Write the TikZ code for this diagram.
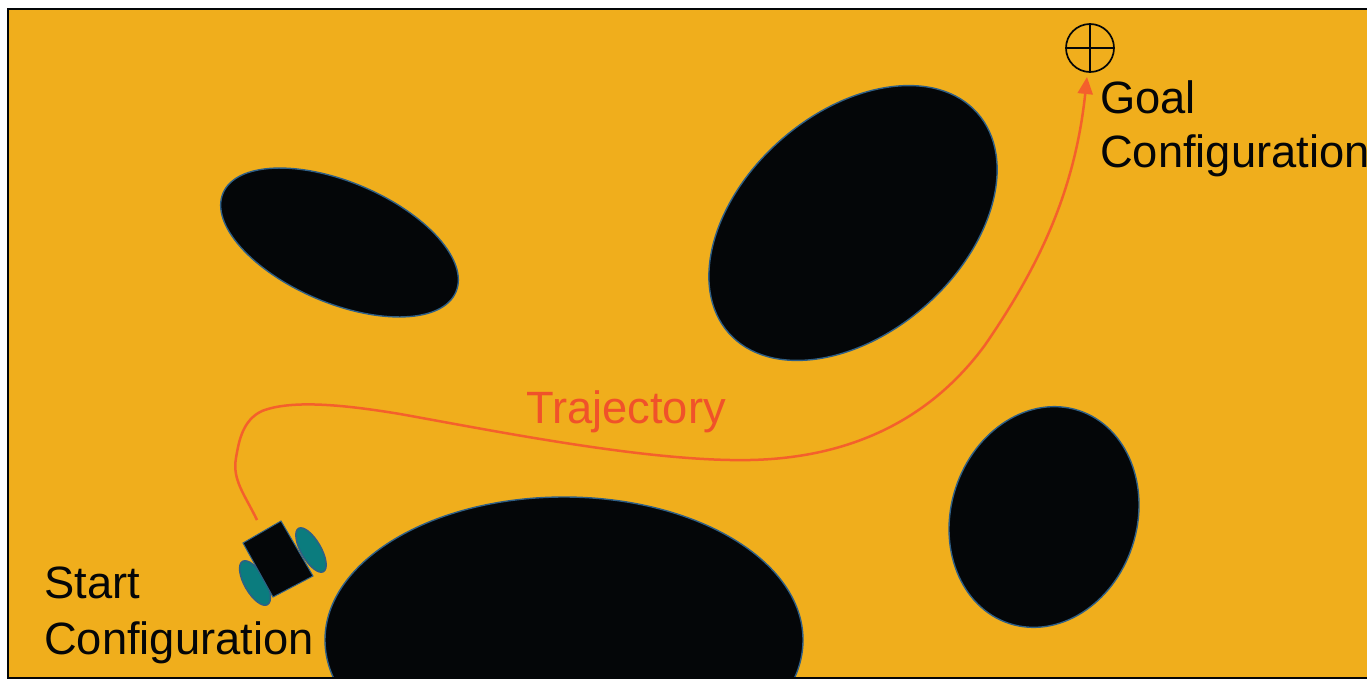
\documentclass[tikz,border=0pt]{standalone}
\usepackage{fontspec}
\setmainfont{Liberation Sans}
\usetikzlibrary{arrows.meta}
\definecolor{field}{HTML}{F0AE1C}
\definecolor{obst}{HTML}{040608}
\definecolor{edgeblue}{HTML}{2F5F86}
\definecolor{wheelc}{HTML}{0B7C7E}
\definecolor{traj}{HTML}{F4602C}
\definecolor{trajtext}{HTML}{F0522A}
\tikzset{
  x=1pt,y=-1pt,
  obstacle/.style={fill=obst,draw=edgeblue,line width=1.4pt},
  wheel/.style={fill=wheelc,draw=edgeblue,line width=1.4pt},
  caption/.style={font=\fontsize{45.3}{55.5}\selectfont,align=left,text=obst,inner sep=0pt},
  path/.style={draw=traj,line width=2.5pt,-{Triangle[length=17pt,width=15pt]}},
}
\begin{document}
\begin{tikzpicture}
\useasboundingbox (0,0) rectangle (1367,680);
\fill[white] (0,0) rectangle (1367,680);
\begin{scope}
\clip (8,9) rectangle (1367,678);
\fill[field] (8,9) rectangle (1367,678);
\draw[obstacle,rotate around={-23:(339.5,242.5)}] (339.5,242.5) ellipse [x radius=126.5,y radius=60.5];
\draw[obstacle,rotate around={41.5:(853,223)}] (853,223) ellipse [x radius=166,y radius=110];
\draw[obstacle,rotate around={72:(1044,517)}] (1044,517) ellipse [x radius=112,y radius=93];
\draw[obstacle] (564,640) ellipse [x radius=239,y radius=143];
\end{scope}
\draw[obst,line width=1.6pt] (1367,9) -- (8,9) -- (8,678) -- (1367,678);
% robot
\draw[wheel,rotate around={-60:(311,550)}] (311,550) ellipse [x radius=25,y radius=10];
\draw[wheel,rotate around={-60:(255,583)}] (255,583) ellipse [x radius=25,y radius=10.5];
\draw[fill=obst,draw=edgeblue,line width=1pt] (281,521) -- (243,543) -- (273,597) -- (313,576) -- cycle;
% goal
\node[draw=obst,line width=1.7pt,circle,minimum size=48pt,inner sep=0pt] (goal) at (1090,48) {};
\draw[obst,line width=1.7pt] (goal.north) -- (goal.south);
\draw[obst,line width=1.7pt] (goal.west) -- (goal.east);
% texts
\node[caption,anchor=base west] (goaltext) at (1100,113) {Goal};
\node[caption,anchor=base west] (goalconf) at (1100,167) {Configuration};
\node[caption,anchor=base west] (starttext) at (44,598) {Start};
\node[caption,anchor=base west] (startconf) at (44,654) {Configuration};
\node[font=\fontsize{45.3}{50}\selectfont,text=trajtext,inner sep=0pt,anchor=base] (trajlabel) at (626,423) {Trajectory};
% trajectory
\coordinate (robotfront) at (257,520);
\coordinate (goalend) at (1087,77);
\draw[path] (robotfront) .. controls (245,495) and (232,480) .. (236,458)
  .. controls (239,440) and (243,420) .. (262,411)
  .. controls (290,400) and (340,404) .. (400,414)
  .. controls (500,432) and (650,462) .. (750,460)
  .. controls (850,458) and (930,420) .. (985,345)
  .. controls (1040,265) and (1075,190) .. (goalend);
\end{tikzpicture}
\end{document}
